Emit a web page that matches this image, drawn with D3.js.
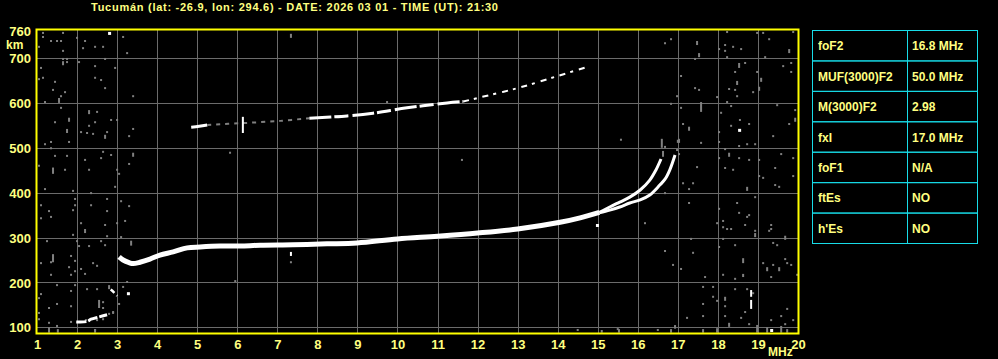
<!DOCTYPE html>
<html lang="en">
  <head>
    <meta charset="utf-8">
    <title>Ionogram Tucuman</title>
    <script src="https://d3js.org/d3.v7.min.js"></script>
    <style>
      body { margin: 0; background: #000; }
      text { font-family: "Liberation Sans", Arial, sans-serif; font-weight: bold; fill: #ffff80; }
    </style>
  </head>
  <body>
    <div id="chart"></div>
    <script>
      var title = "Tucumán (lat: -26.9, lon: 294.6) - DATE: 2026 03 01 - TIME (UT): 21:30";
      var xTicks = [1, 2, 3, 4, 5, 6, 7, 8, 9, 10, 11, 12, 13, 14, 15, 16, 17, 18, 19, 20];
      var yTicks = [100, 200, 300, 400, 500, 600, 700, 760];
      var tableKeys = ["foF2", "MUF(3000)F2", "M(3000)F2", "fxI", "foF1", "ftEs", "h'Es"];
      var tableVals = ["16.8 MHz", "50.0 MHz", "2.98", "17.0 MHz", "N/A", "NO", "NO"];

      // traces [MHz, km]
      var mainTrace = [[3.05,257],[3.15,250],[3.3,244],[3.4,242],[3.57,245],[3.82,252],[4.07,261],[4.4,268],[4.75,277],
                       [5.07,279],[5.57,281],[6.07,281],[6.57,283],[7.39,284],[8.24,286],[8.99,288],[10,297],[11,303],
                       [12,310],[13,319],[14.06,334],[14.56,344],[15.04,356]];
      var oBranch = [[15.04,356],[15.3,368],[15.55,379],[15.8,390],[16.06,406],[16.3,428],[16.45,450],[16.58,475]];
      var xBranch = [[15.04,355],[15.3,361],[15.55,368],[15.8,377],[16.06,384],[16.3,395],[16.55,417],[16.68,430],[16.8,451],[16.93,484]];
      var hop2a = [[4.85,546],[5.05,548],[5.25,551]];
      var hop2b = [[5.25,551],[6.14,555],[7.07,560],[7.8,566]];
      var hop2c = [[7.8,566],[8.74,571],[9.39,577],[10.24,589],[11.24,600],[11.64,603]];
      var hop2d = [[11.64,603],[12,611],[13,633],[14,660],[14.73,680]];
      var lowTrace = [[1.98,112],[2.25,113],[2.35,118],[2.55,123],[2.75,128]];
      var lowTrace2 = [[2.84,184],[2.92,178],[3.0,170]];
      var whiteStreaks = [[6.14,533,569],[7.34,259,268],[18.83,168,183],[18.83,141,161]];
      var whiteDots = [[2.80,756],[18.53,540],[3.27,176],[14.98,328],[19.33,94]];

      var noise = [
        [1.15,756],[1.65,756],[1.15,747],[1.05,725],[1.35,738],[1.50,738],[1.60,738],[2.20,738],[2.00,745],[1.65,716],
        [2.45,725],[2.65,725],[3.15,747],[3.25,711],[2.15,722],[1.65,698],[1.75,698],[1.75,691],[2.05,691],[1.10,678],
        [1.05,653],[1.15,656],[1.45,647],[2.45,682],[2.70,698],[2.95,678],[2.45,656],[2.60,651],[2.70,633],[1.40,629],
        [1.70,624],[1.60,615],[1.20,602],[3.40,615],[1.60,589],[2.50,580],[1.45,557],[2.45,557],[2.85,562],[3.00,562],
        [2.30,549],[2.10,535],[2.25,533],[2.40,531],[2.75,535],[3.40,542],[3.30,526],[1.35,513],[1.80,513],[1.20,508],
        [1.35,499],[1.45,482],[1.75,482],[2.65,491],[2.85,484],[2.20,473],[2.60,477],[1.05,460],[1.70,451],[2.30,451],
        [3.00,451],[3.05,442],[3.30,464],
        [1.20,408],[1.90,404],[2.35,399],[2.95,413],[1.10,372],[1.30,359],[1.10,343],[1.35,346],[1.95,386],[1.95,372],
        [1.90,361],[2.35,372],[2.75,386],[2.75,359],[3.10,381],[3.30,370],[2.10,332],[2.70,328],[3.00,332],[3.20,337],
        [1.90,306],[2.75,303],[3.10,301],[1.25,292],[2.00,292],[2.60,292],[2.05,281],[2.30,281],[2.70,283],[1.85,259],
        [1.10,243],[1.35,245],[1.95,248],[2.40,243],[2.50,237],[1.80,234],[2.10,230],[1.95,225],[1.85,217],[1.35,217],
        [2.20,219],[1.50,194],[1.95,194],[1.85,181],[2.25,185],[2.50,185],[3.15,190],[3.25,201],[1.10,174],[1.05,165],
        [1.30,143],[1.50,152],[1.85,147],[2.65,156],[2.65,143],[2.90,132],[3.05,152],[1.05,132],[1.30,110],[1.50,103],
        [1.85,112],[1.05,118],[2.45,94],[2.22,116],[2.50,116],[2.65,118],[2.80,130],[2.90,134],
        [18.23,758],[18.98,756],[19.13,756],[19.88,758],[16.68,733],[16.83,742],[18.18,729],[18.03,720],[18.38,725],[18.58,720],
        [18.18,716],[19.28,742],[18.23,702],[17.43,698],[18.68,689],[19.18,702],[19.63,682],[19.83,689],[17.08,660],[18.43,669],
        [18.98,669],[19.83,669],[17.43,633],[17.53,629],[18.28,631],[18.43,629],[18.88,624],[16.98,615],[18.48,615],[17.98,613],
        [18.23,602],[18.33,593],[16.83,598],[19.48,595],[17.08,589],[19.93,584],[18.08,578],[18.55,562],[17.13,553],[18.33,549],
        [18.78,553],[19.78,553],[18.03,535],[19.38,526],[17.58,511],[18.03,513],[18.53,504],[18.73,508],[18.93,508],[16.68,502],
        [16.98,495],[18.18,497],[17.03,486],[18.03,477],[18.53,477],[18.78,473],[19.03,473],[19.58,486],[19.88,477],[18.18,455],
        [18.38,451],[17.48,457],[19.43,455],[19.03,437],[19.13,433],[19.88,437],
        [17.13,421],[17.28,408],[17.38,421],[16.68,399],[19.43,417],[19.53,413],[18.93,390],[17.28,377],[18.48,377],[18.03,364],
        [18.53,355],[18.78,350],[18.73,346],[18.13,337],[17.98,332],[18.68,328],[19.33,328],[18.13,323],[18.23,319],[18.33,319],
        [19.33,319],[19.28,315],[18.93,315],[17.33,297],[18.13,297],[19.38,288],[18.43,283],[19.48,283],[18.03,279],[16.68,270],
        [17.38,266],[19.13,243],[19.68,252],[19.73,243],[16.88,239],[17.08,230],[19.38,239],[19.83,239],[17.68,212],[18.13,217],
        [18.43,208],[19.33,212],[19.98,217],[17.63,190],[17.88,190],[18.43,185],[18.73,185],[17.88,168],[17.63,152],[17.98,159],
        [18.18,147],[18.88,176],[18.68,134],[19.73,141],[19.58,125],[17.23,121],[17.63,125],[18.18,125],[18.58,121],[18.78,107],
        [19.33,116],[19.68,107],[19.88,116],[16.93,101],[18.98,103],
        [11.61,473],[5.95,203],[5.82,489],[9.74,602],[15.58,518],[16.18,332],[7.34,245],[14.5,94],[15.5,96],[16.5,94]
      ];
      var streaks = [
        [1.65,684,693],[1.55,600,611],[2.30,575,584],[1.80,558,567],[1.75,533,542],[1.40,442,456],[2.70,520,529],[3.40,480,489],
        [2.55,143,161],[2.80,185,194],[1.40,245,263],[2.20,310,319],[3.35,282,293],[17.48,729,738],[17.58,580,602],[17.28,538,547],
        [17.53,702,711],[19.78,711,720],[18.53,678,689],[18.48,640,649],[19.08,647,656],[19.03,627,636],[17.03,511,520],[18.28,480,489],
        [19.93,558,567],[16.63,480,493],[18.73,404,413],[18.93,301,310],[18.63,243,254],[18.63,212,219],[19.23,225,234],[19.53,225,234],
        [18.18,159,168],[18.28,101,110],[19.68,295,304],[7.34,745,754],[17.0,511,518],[16.6,500,520],
        [1.30,88,100],[1.52,88,96],[2.45,88,96],[16.83,88,96],[16.93,97,105],[17.63,88,96],[17.98,88,98],[18.98,88,101],
        [19.23,88,100],[19.58,88,103],[19.73,88,96],[15.53,88,96],[15.1,88,94]
      ];

      var W = 998, H = 359;
      var svg = d3.select("#chart").append("svg")
                  .attr("width", W)
                  .attr("height", H);

      svg.append("rect").attr("x", 0).attr("y", 0).attr("width", W).attr("height", H).attr("fill", "#000");

      var x = d3.scaleLinear().domain([1, 20]).range([37, 798]);
      var y = d3.scaleLinear().domain([87.3, 762.5]).range([333, 30]);

      svg.append("text").attr("x", 91).attr("y", 11)
         .attr("font-size", 11)
         .attr("textLength", 407)
         .text(title);

      // grid
      var grid = svg.append("g").attr("stroke", "#6b6b6b").attr("stroke-width", 1);
      grid.selectAll(".vg").data(xTicks.slice(1, -1)).enter().append("line")
          .attr("x1", d => Math.round(x(d)) + 0.5).attr("x2", d => Math.round(x(d)) + 0.5)
          .attr("y1", y.range()[1]).attr("y2", y.range()[0]);
      grid.selectAll(".hg").data(yTicks.filter(d => d < 760)).enter().append("line")
          .attr("y1", d => Math.round(y(d)) + 0.5).attr("y2", d => Math.round(y(d)) + 0.5)
          .attr("x1", x.range()[0]).attr("x2", x.range()[1]);

      // noise
      svg.append("g").selectAll("rect").data(noise).enter().append("rect")
         .attr("x", d => x(d[0]) - 1).attr("y", d => y(d[1]) - 1)
         .attr("width", 2).attr("height", 2).attr("fill", "#808080");
      svg.append("g").selectAll("rect").data(streaks).enter().append("rect")
         .attr("x", d => x(d[0]) - 1).attr("y", d => y(d[2]))
         .attr("width", 2).attr("height", d => Math.max(2, y(d[1]) - y(d[2]))).attr("fill", "#808080");

      // traces
      var line = d3.line().x(d => x(d[0])).y(d => y(d[1])).curve(d3.curveCatmullRom);
      function trace(data, color, width, dash) {
        svg.append("path").datum(data)
           .attr("d", line)
           .attr("fill", "none")
           .attr("stroke", color)
           .attr("stroke-width", width)
           .attr("stroke-dasharray", dash || null);
      }
      trace(mainTrace, "#fff", 5);
      trace(oBranch, "#fff", 3);
      trace(xBranch, "#fff", 3);
      trace(hop2a, "#fff", 3);
      trace(hop2b, "#808080", 2, "4,5");
      trace(hop2c, "#fff", 3, "22,3,14,4");
      trace(hop2d, "#fff", 2, "6,5,3,6");
      trace(lowTrace, "#fff", 3, "10,2");
      trace(lowTrace2, "#fff", 2.5, "5,3");

      svg.append("g").selectAll("rect").data(whiteStreaks).enter().append("rect")
         .attr("x", d => x(d[0]) - 1).attr("y", d => y(d[2]))
         .attr("width", 2).attr("height", d => y(d[1]) - y(d[2])).attr("fill", "#fff");
      svg.append("g").selectAll("rect").data(whiteDots).enter().append("rect")
         .attr("x", d => x(d[0]) - 1).attr("y", d => y(d[1]) - 1)
         .attr("width", 3).attr("height", 3).attr("fill", "#fff");

      // border
      svg.append("rect")
         .attr("x", x.range()[0] - 0.5).attr("y", y.range()[1] - 0.5)
         .attr("width", x.range()[1] - x.range()[0] + 1).attr("height", y.range()[0] - y.range()[1] + 1)
         .attr("fill", "none").attr("stroke", "#ffff00").attr("stroke-width", 2);

      // axes
      var xAxis = d3.axisBottom(x).tickValues(xTicks).tickSize(0).tickPadding(0).tickFormat(d3.format("d"));
      var gx = svg.append("g").attr("transform", "translate(0, 349)").call(xAxis);
      var yAxis = d3.axisLeft(y).tickValues(yTicks).tickSize(0).tickPadding(0).tickFormat(d3.format("d"));
      var gy = svg.append("g").attr("transform", "translate(31, 0)").call(yAxis);
      [gx, gy].forEach(function(g) {
        g.select(".domain").remove();
        g.selectAll("text").attr("fill", "#ffff80").attr("font-size", 13)
         .attr("font-family", "'Liberation Sans', Arial, sans-serif").attr("font-weight", "bold");
      });
      gx.selectAll("text").attr("dy", 0);
      gy.selectAll("text").attr("dy", "0.36em");

      svg.append("text").attr("x", 6).attr("y", 49).attr("font-size", 12).text("km");
      svg.append("text").attr("x", 768).attr("y", 356).attr("font-size", 12).text("MHz");

      // parameter table
      var rowY = d3.scaleBand().domain(tableKeys).range([30, 243]);
      var colX = [812, 907, 977];
      var tbl = svg.append("g");
      tableKeys.forEach(function(k, i) {
        tbl.append("rect").attr("x", colX[0] + 0.5).attr("y", rowY(k) + 0.5)
           .attr("width", colX[1] - colX[0]).attr("height", rowY.bandwidth())
           .attr("fill", "none").attr("stroke", "#18dce8");
        tbl.append("rect").attr("x", colX[1] + 0.5).attr("y", rowY(k) + 0.5)
           .attr("width", colX[2] - colX[1]).attr("height", rowY.bandwidth())
           .attr("fill", "none").attr("stroke", "#18dce8");
        tbl.append("text").attr("x", colX[0] + 6).attr("y", rowY(k) + rowY.bandwidth() / 2 + 5)
           .attr("font-size", 12).text(k);
        tbl.append("text").attr("x", colX[1] + 5).attr("y", rowY(k) + rowY.bandwidth() / 2 + 5)
           .attr("font-size", 12).text(tableVals[i]);
      });
    </script>
  </body>
</html>
